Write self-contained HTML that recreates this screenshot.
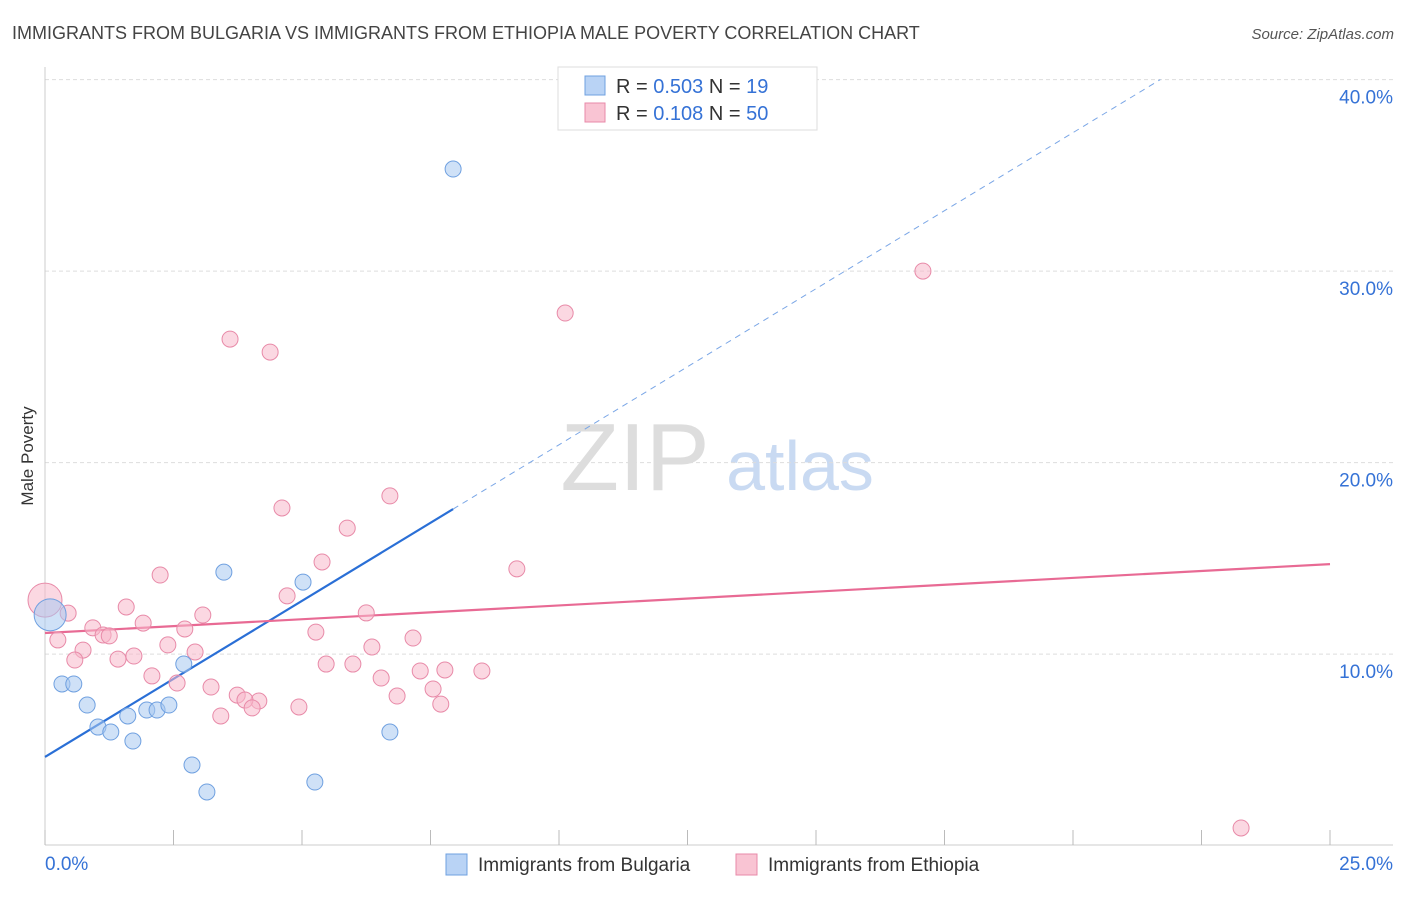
<!DOCTYPE html>
<html><head><meta charset="utf-8"><style>
body{margin:0;background:#fff;font-family:"Liberation Sans",sans-serif}
svg text{font-family:"Liberation Sans",sans-serif}
</style></head><body>
<svg id="chart" width="1406" height="892" viewBox="0 0 1406 892" xmlns="http://www.w3.org/2000/svg">
<text x="12" y="39" font-size="18" fill="#444">IMMIGRANTS FROM BULGARIA VS IMMIGRANTS FROM ETHIOPIA MALE POVERTY CORRELATION CHART</text>
<text x="1394" y="39" font-size="15" fill="#555" text-anchor="end" font-style="italic">Source: ZipAtlas.com</text>
<text transform="translate(33,456) rotate(-90)" font-size="17" fill="#333" text-anchor="middle">Male Poverty</text>
<g><text x="635" y="490" font-size="96" fill="#ddd" font-family="Liberation Serif,serif" text-anchor="middle">ZIP</text><text x="800" y="490" font-size="70" fill="#c9daf2" text-anchor="middle">atlas</text></g>
<g id="grid"></g><g id="axes"></g><g id="lines"></g><g id="pts"></g>
<g>
<rect x="558" y="67" width="259" height="63" fill="#fff" stroke="#ddd"/>
<rect x="585" y="76" width="20" height="19" fill="#b9d3f5" stroke="#6fa0e0"/>
<rect x="585" y="103" width="20" height="19" fill="#f9c4d3" stroke="#e88aa8"/>
<text x="616" y="93" font-size="20" fill="#333">R = <tspan fill="#3572d6">0.503</tspan>   N = <tspan fill="#3572d6"> 19</tspan></text>
<text x="616" y="120" font-size="20" fill="#333">R = <tspan fill="#3572d6"> 0.108</tspan>   N = <tspan fill="#3572d6">50</tspan></text>
</g>
<g>
<rect x="446" y="854" width="21" height="21" fill="#b9d3f5" stroke="#6fa0e0"/>
<text x="478" y="871" font-size="19" fill="#333">Immigrants from Bulgaria</text>
<rect x="736" y="854" width="21" height="21" fill="#f9c4d3" stroke="#e88aa8"/>
<text x="768" y="871" font-size="19" fill="#333">Immigrants from Ethiopia</text>
</g>
</svg>
<script>
const bulgariaX=[7.94,3.48,5.02,2.70,0.33,0.56,0.82,1.03,1.28,1.61,1.71,1.98,2.18,2.41,2.86,3.15,5.25,6.71,0.1];
const bulgariaY=[35.33,14.28,13.76,9.48,8.44,8.44,7.34,6.19,5.93,6.77,5.46,7.08,7.08,7.34,4.21,2.80,3.32,5.93,12.05];
const ethiopiaX=[0,3.60,4.38,10.12,17.08,4.61,6.71,5.88,5.39,9.18,2.24,1.58,0.45,0.93,1.13,1.25,1.91,2.72,3.07,4.71,6.25,0.25,0.74,0.58,1.42,1.73,2.39,2.92,2.08,2.57,3.23,3.74,4.16,3.42,3.89,4.03,4.94,5.27,5.47,5.99,6.36,6.54,6.85,7.16,7.30,7.78,7.55,7.70,8.50,23.27];
const ethiopiaY=[12.82,26.45,25.77,27.81,30.0,17.63,18.26,16.58,14.81,14.45,14.13,12.46,12.14,11.37,11.00,10.95,11.62,11.31,12.04,13.04,12.15,10.74,10.21,9.69,9.74,9.90,10.48,10.11,8.86,8.49,8.28,7.86,7.55,6.77,7.60,7.19,7.24,11.15,9.48,9.48,10.37,8.75,7.81,10.84,9.12,9.17,8.18,7.39,9.12,0.92];
const yTicks=[10,20,30,40];
const yTickLabels=["10.0%","20.0%","30.0%","40.0%"];
const xTicks=[0,2.5,5,7.5,10,12.5,15,17.5,20,22.5,25];
const blueTrend=[4.63,1.63]; // intercept, slope
const pinkTrend=[11.1,0.144];
const xs=v=>45+v*51.4, ys=v=>845.6-v*19.15;
const NS="http://www.w3.org/2000/svg";
function mk(p,t,a){const e=document.createElementNS(NS,t);for(const k in a)e.setAttribute(k,a[k]);document.getElementById(p).appendChild(e);return e;}
yTicks.forEach((t,i)=>{
 const l=mk('grid','line',{x1:45,x2:1393,y1:ys(t),y2:ys(t),stroke:'#ddd','stroke-dasharray':'4,3'});
 
 
 const tx=mk('grid','text',{x:1393,y:ys(t)+24,'font-size':19,fill:'#3572d6','text-anchor':'end'});
 tx.textContent=yTickLabels[i];
 
 
});
let a=mk('axes','line',{x1:45,x2:45,y1:67,y2:845,stroke:'#ccc'});


a=mk('axes','line',{x1:45,x2:1393,y1:845,y2:845,stroke:'#ccc'});


xTicks.forEach(t=>{const e=mk('axes','line',{x1:xs(t),x2:xs(t),y1:830,y2:845,stroke:'#bbb'});
 
 });
let t0=mk('axes','text',{x:45,y:870,'font-size':19,fill:'#3572d6'});t0.textContent=xTicks[0].toFixed(1)+'%';


let t1=mk('axes','text',{x:1393,y:870,'font-size':19,fill:'#3572d6','text-anchor':'end'});t1.textContent=xTicks[xTicks.length-1].toFixed(1)+'%';


ethiopiaX.forEach((x,i)=>{const c=mk('pts','circle',{cx:xs(x),cy:ys(ethiopiaY[i]),r:i==0?17:8,fill:'#f7b8cb','fill-opacity':0.55,stroke:'#e88aa8','stroke-width':1});
 
 });
bulgariaX.forEach((x,i)=>{const c=mk('pts','circle',{cx:xs(x),cy:ys(bulgariaY[i]),r:i==18?16:8,fill:'#a8c8f0','fill-opacity':0.55,stroke:'#6fa0e0','stroke-width':1});
 
 });
const bEnd=Math.max(...bulgariaX), bTop=(40-blueTrend[0])/blueTrend[1];
let l=mk('lines','line',{x1:xs(0),y1:ys(blueTrend[0]),x2:xs(bEnd),y2:ys(blueTrend[0]+blueTrend[1]*bEnd),stroke:'#2a6fd6','stroke-width':2.2});


l=mk('lines','line',{x1:xs(bEnd),y1:ys(blueTrend[0]+blueTrend[1]*bEnd),x2:xs(bTop),y2:ys(40),stroke:'#7aa6e6','stroke-width':1,'stroke-dasharray':'6,5'});


l=mk('lines','line',{x1:xs(0),y1:ys(pinkTrend[0]),x2:xs(25),y2:ys(pinkTrend[0]+pinkTrend[1]*25),stroke:'#e86a94','stroke-width':2.2});


</script>
</body></html>
